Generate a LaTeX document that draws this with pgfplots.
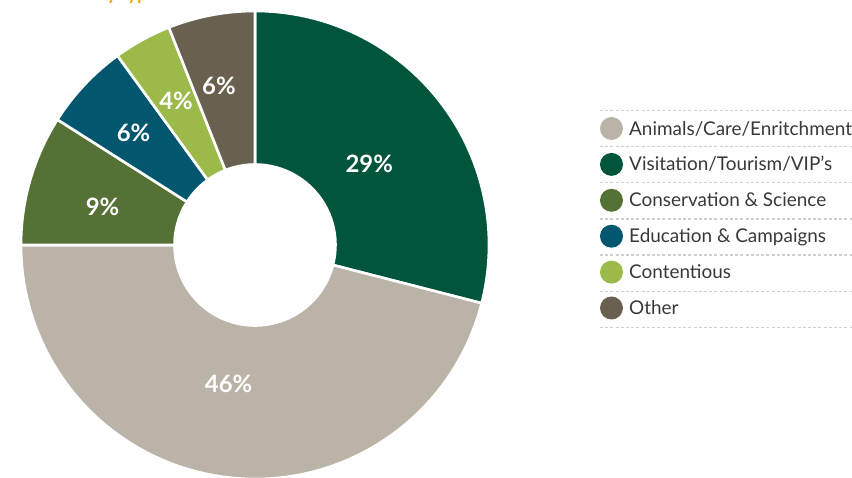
\documentclass[border=0pt]{standalone}
\usepackage{pgfplots}
\usepackage{pgfplotstable}
\pgfplotsset{compat=1.18}
\usepackage{fontspec}
\setmainfont{Lato}

\definecolor{cVisit}{HTML}{02553D}
\definecolor{cAnimal}{HTML}{BBB3A8}
\definecolor{cCons}{HTML}{557135}
\definecolor{cEdu}{HTML}{02576F}
\definecolor{cCont}{HTML}{9CBA4A}
\definecolor{cOther}{HTML}{6A604F}
\definecolor{legtext}{HTML}{383838}
\definecolor{rulegray}{HTML}{CFCFCF}
\definecolor{titleorange}{HTML}{F5A800}

% slices clockwise from 12 o'clock
% lr = label radius (px), da = label angle nudge, row = legend row
\pgfplotstableread[col sep=comma]{
name,value,color,lr,da,row
Visitation/Tourism/VIP's,29,cVisit,140,-2.5,1
Animals/Care/Enritchment,46,cAnimal,141,-3.6,0
Conservation \& Science,9,cCons,157,2.3,2
Education \& Campaigns,6,cEdu,165,0.6,3
Contentious,4,cCont,164,0,4
Other,6,cOther,163,2,5
}\slices

\begin{document}
\begin{tikzpicture}
\begin{axis}[
  x=1bp, y=1bp,
  xmin=0, xmax=852, ymin=0, ymax=478,
  enlargelimits=false,
  hide axis,
  anchor=south west, at={(0,0)},
  clip=true,
]
\pgfplotsextra{
  \coordinate (O) at (axis cs:255,233);
  \gdef\cum{0}
  \pgfplotstablegetrowsof{\slices}
  \pgfmathtruncatemacro{\nrows}{\pgfplotsretval-1}
  \foreach \i in {0,...,\nrows}{
    \pgfplotstablegetelem{\i}{value}\of\slices \let\val\pgfplotsretval
    \pgfplotstablegetelem{\i}{color}\of\slices \let\col\pgfplotsretval
    \pgfplotstablegetelem{\i}{lr}\of\slices \let\lr\pgfplotsretval
    \pgfplotstablegetelem{\i}{da}\of\slices \let\da\pgfplotsretval
    \pgfmathsetmacro{\a}{90-3.6*\cum}
    \pgfmathsetmacro{\b}{90-3.6*(\cum+\val)}
    \pgfmathsetmacro{\m}{(\a+\b)/2+\da}
    \fill[fill=\col, draw=white, line width=2.6bp, line join=miter]
      ([shift={(\a:234bp)}]O) arc[start angle=\a, end angle=\b, radius=234bp]
      -- ([shift={(\b:80.5bp)}]O) arc[start angle=\b, end angle=\a, radius=80.5bp]
      -- cycle;
    \node[text=white, font=\bfseries\fontsize{24}{28}\selectfont, inner sep=0pt]
      at ([shift={(\m:\lr bp)}]O) {\val\%};
    \pgfmathsetmacro{\newcum}{\cum+\val}
    \xdef\cum{\newcum}
  }
  % legend
  \foreach \k in {0,...,6}{
    \draw[rulegray, line width=1.2bp, dash pattern=on 3bp off 2.2bp]
      (axis cs:600,{478-110.7-36.1*\k}) -- (axis cs:852,{478-110.7-36.1*\k});
  }
  \foreach \i in {0,...,\nrows}{
    \pgfplotstablegetelem{\i}{name}\of\slices \let\nm\pgfplotsretval
    \pgfplotstablegetelem{\i}{color}\of\slices \let\col\pgfplotsretval
    \pgfplotstablegetelem{\i}{row}\of\slices \let\rw\pgfplotsretval
    \pgfmathsetmacro{\yc}{478-128.5-35.9*\rw}
    \fill[fill=\col] (axis cs:611.5,\yc) circle[radius=11.5bp];
    \node[anchor=base west, inner sep=0pt, text=legtext,
          font=\fontsize{19}{23}\selectfont]
      at (axis cs:629,\yc-6.5) {\nm};
  }
  % title, mostly above the picture
  \node[anchor=base west, inner sep=0pt, text=titleorange,
        font=\bfseries\fontsize{18}{22}\selectfont]
    at (axis cs:97,477.5) {by type};
}
\end{axis}
\pgfresetboundingbox
\useasboundingbox (0,0) rectangle (852bp,478bp);
\end{tikzpicture}
\end{document}
